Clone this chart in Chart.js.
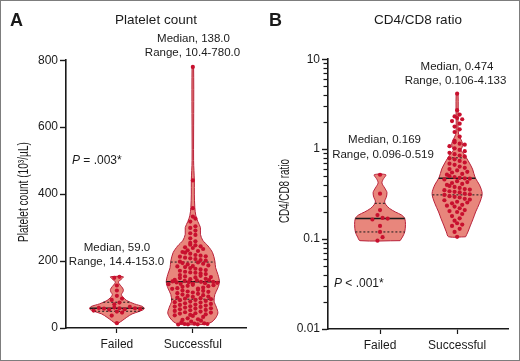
<!DOCTYPE html>
<html><head><meta charset="utf-8">
<script src="https://cdn.jsdelivr.net/npm/chart.js@4/dist/chart.umd.min.js"></script>
<style>
html,body{margin:0;padding:0;background:#fff;}
#fig{position:relative;width:520px;height:361px;box-sizing:border-box;border:1px solid #7d7d7d;overflow:hidden;background:#fff;}
canvas{position:absolute;top:-1px;}
#cA{left:-1px}#cB{left:259px}
</style></head><body>
<div id="fig"><canvas id="cA" width="260" height="361"></canvas><canvas id="cB" width="260" height="361"></canvas></div>
<script>
// ---------- data ----------
const categories = ['Failed', 'Successful'];
const panelTitles = ['Platelet count', 'CD4/CD8 ratio'];
const panelLetters = ['A', 'B'];
const yAxisTitles = ['Platelet count (10³/µL)', 'CD4/CD8 ratio'];
const plateletTicks = [0, 200, 400, 600, 800];
const ratioTicks = [0.01, 0.1, 1, 10];

const plateletFailed = [153.0, 150, 127, 112, 96, 88, 84, 76, 71, 63, 61, 60, 59, 59, 58, 57, 56, 55, 52, 49, 46, 37, 14.4];
const plateletSuccessful = [780.0, 441, 358, 333, 327, 318, 304, 299, 291, 283, 278, 268, 259, 254, 249, 247, 244, 241, 239, 236, 232, 230, 227, 225, 222, 218, 216, 214, 213, 210, 208, 206, 203, 201, 198, 196, 194, 192, 190, 187, 185, 184, 182, 179, 177, 175, 173, 171, 168, 166, 165, 163, 161, 158, 156, 154, 152, 151, 149, 147, 146, 144, 143, 142, 141, 139, 138, 138, 137, 136, 135, 134, 133, 132, 131, 129, 128, 126, 125, 123, 121, 119, 118, 117, 114, 112, 111, 109, 108, 106, 104, 102, 100, 98, 96, 94, 93, 91, 89, 88, 86, 84, 83, 81, 79, 77, 76, 74, 72, 70, 69, 67, 65, 64, 63, 61, 59, 58, 56, 54, 53, 51, 49, 47, 46, 44, 43, 41, 39, 38, 36, 33, 29, 26, 24, 22, 19, 17, 14, 13, 12, 12, 11, 11, 10.4];
const ratioFailed = [0.519, 0.32, 0.21, 0.185, 0.172, 0.169, 0.165, 0.14, 0.12, 0.105, 0.096];
const ratioSuccessful = [4.133, 2.71, 2.42, 2.31, 2.22, 2.15, 2.05, 1.92, 1.78, 1.66, 1.55, 1.38, 1.24, 1.19, 1.15, 1.12, 1.08, 1.02, 0.98, 0.95, 0.91, 0.88, 0.85, 0.83, 0.79, 0.77, 0.74, 0.71, 0.69, 0.67, 0.64, 0.62, 0.6, 0.58, 0.56, 0.55, 0.53, 0.52, 0.5, 0.49, 0.48, 0.474, 0.47, 0.46, 0.44, 0.43, 0.42, 0.41, 0.4, 0.39, 0.38, 0.37, 0.36, 0.355, 0.35, 0.34, 0.335, 0.33, 0.32, 0.315, 0.31, 0.3, 0.295, 0.29, 0.28, 0.275, 0.27, 0.26, 0.255, 0.25, 0.24, 0.235, 0.23, 0.22, 0.21, 0.205, 0.2, 0.19, 0.18, 0.17, 0.16, 0.15, 0.145, 0.14, 0.13, 0.12, 0.106];

const plateletMedian = [59.0, 138.0];
const plateletQ1 = [50, 86];
const plateletQ3 = [77, 197];
const plateletMin = [14.4, 10.4];
const plateletMax = [153.0, 780.0];
const ratioMedian = [0.169, 0.474];
const ratioQ1 = [0.12, 0.31];
const ratioQ3 = [0.25, 0.80];
const ratioMin = [0.096, 0.106];
const ratioMax = [0.519, 4.133];
const pSigns = ['=', '<'];
const pValues = ['.003*', '.001*'];

// violin outlines: value levels and half-widths (fraction of category spacing)
const plateletFailedLevels = [14.4, 22, 32, 42, 50, 57, 64, 72, 82, 92, 100, 108, 115, 124, 132, 138, 146, 153];
const plateletFailedWidths = [0.02, 0.07, 0.13, 0.2, 0.3, 0.36, 0.34, 0.23, 0.13, 0.08, 0.06, 0.08, 0.085, 0.06, 0.03, 0.02, 0.06, 0.085];
const plateletSuccessfulLevels = [10.4, 18, 30, 45, 62, 80, 100, 120, 138, 160, 180, 200, 225, 245, 262, 280, 300, 318, 335, 360, 400, 440, 500, 780];
const plateletSuccessfulWidths = [0.17, 0.25, 0.3, 0.33, 0.31, 0.28, 0.29, 0.33, 0.35, 0.33, 0.3, 0.29, 0.26, 0.2, 0.13, 0.1, 0.1, 0.066, 0.04, 0.026, 0.02, 0.02, 0.01, 0.01];
const ratioFailedLevels = [0.096, 0.105, 0.12, 0.145, 0.17, 0.185, 0.2, 0.22, 0.245, 0.265, 0.29, 0.33, 0.37, 0.42, 0.46, 0.519];
const ratioFailedWidths = [0.26, 0.29, 0.32, 0.33, 0.32, 0.28, 0.2, 0.12, 0.07, 0.06, 0.08, 0.09, 0.06, 0.025, 0.04, 0.075];
const ratioSuccessfulLevels = [0.106, 0.12, 0.14, 0.17, 0.2, 0.25, 0.32, 0.4, 0.48, 0.6, 0.7, 0.8, 0.9, 0.97, 1.05, 1.15, 1.28, 1.45, 1.8, 4.133];
const ratioSuccessfulWidths = [0.11, 0.14, 0.17, 0.21, 0.24, 0.29, 0.325, 0.29, 0.235, 0.2, 0.16, 0.12, 0.08, 0.05, 0.065, 0.07, 0.05, 0.02, 0.012, 0.012];

// ---------- styling ----------
const FONT = "'Liberation Sans', Arial, sans-serif";
const INK = '#1a1a1a';
const VIOLIN_FILL = '#e8867c';
const VIOLIN_EDGE = '#b8213a';
const DOT = '#c8102e';

function widthAt(levels, widths, t, tf) {
  const L = levels.map(tf);
  if (t <= L[0]) return widths[0];
  for (let i = 1; i < L.length; i++) {
    if (t <= L[i]) { const f = (t - L[i-1]) / (L[i] - L[i-1]); return widths[i-1] + f * (widths[i] - widths[i-1]); }
  }
  return widths[widths.length - 1];
}
function violinPath(c, levels, widths) {
  const right = levels.map((v, i) => ({x: c + widths[i], y: v}));
  const left = levels.map((v, i) => ({x: c - widths[i], y: v})).reverse();
  return right.concat(left, [right[0]]);
}
function gcd(a, b) { return b ? gcd(b, a % b) : a; }
function swarm(c, values, levels, widths, tf, rowStep, colStep) {
  const sorted = values.slice().sort((a, b) => a - b);
  const rows = []; let cur = null;
  sorted.forEach(v => { const t = tf(v); if (!cur || t - cur.t0 > rowStep) { cur = {t0: t, vals: []}; rows.push(cur); } cur.vals.push(v); });
  const pts = [];
  rows.forEach(r => {
    const n = r.vals.length;
    const tm = r.vals.reduce((s, v) => s + tf(v), 0) / n;
    const half = Math.max(widthAt(levels, widths, tm, tf) * 0.92, 0.1);
    const s = n > 1 ? Math.min(colStep, 2 * half / (n - 1)) : 0;
    const k = gcd(3, n) === 1 ? 3 : (gcd(5, n) === 1 ? 5 : 1);
    r.vals.forEach((v, j) => { const pos = (j * k) % n; pts.push({x: c + (pos - (n - 1) / 2) * s, y: v}); });
  });
  return pts;
}

function makeTextPlugin(o) {
  return {
    id: 'panelText',
    afterDraw(chart) {
      const ctx = chart.ctx;
      ctx.save();
      // short minor ticks on a log axis
      if (o.minorTicks.length) {
        const ys = chart.scales.y;
        const ax = chart.chartArea.left;
        ctx.strokeStyle = INK; ctx.lineWidth = 1.2; ctx.setLineDash([]);
        o.minorTicks.forEach(v => {
          const py = Math.round(ys.getPixelForValue(v)) + 0.5;
          ctx.beginPath(); ctx.moveTo(ax - 4.5, py); ctx.lineTo(ax, py); ctx.stroke();
        });
      }
      ctx.fillStyle = INK;
      ctx.textBaseline = 'middle';
      ctx.textAlign = 'left';
      ctx.font = 'bold 18px ' + FONT;
      ctx.fillText(o.letter, o.letterX, 21);
      ctx.font = '11.5px ' + FONT;
      ctx.textAlign = 'center';
      o.notes.forEach(n => ctx.fillText(n.text, n.x, n.y));
      ctx.textAlign = 'left';
      ctx.font = 'italic 12px ' + FONT;
      ctx.fillText('P', o.pX, o.pY);
      const w = ctx.measureText('P').width;
      ctx.font = '12px ' + FONT;
      ctx.fillText(' ' + o.pSign + ' ' + o.pValue, o.pX + w, o.pY);
      // condensed rotated y-axis title
      ctx.font = '14px ' + FONT;
      const tw = ctx.measureText(o.yTitle).width;
      const yc = (chart.chartArea.top + chart.chartArea.bottom) / 2 + o.yTitleDy;
      ctx.translate(o.yTitleX, yc);
      ctx.rotate(-Math.PI / 2);
      ctx.scale(o.yTitleLen / tw, 1);
      ctx.textAlign = 'center';
      ctx.fillText(o.yTitle, 0, 0);
      ctx.restore();
    }
  };
}

function makePanel(id, cfg) {
  const tf = cfg.log ? Math.log10 : (v => v);
  const datasets = [];
  cfg.groups.forEach((vals, i) => {
    const c = i + 1;
    const lv = cfg.levels[i], wd = cfg.widths[i];
    datasets.push({data: swarm(c, vals, lv, wd, tf, cfg.rowStep, cfg.colStep), showLine: false, pointRadius: 2.1, pointHoverRadius: 2.1,
      pointBackgroundColor: DOT, pointBorderWidth: 0, order: 0, clip: false});
    const wm = widthAt(lv, wd, tf(cfg.median[i]), tf);
    datasets.push({data: [{x: c - wm, y: cfg.median[i]}, {x: c + wm, y: cfg.median[i]}], borderColor: INK, borderWidth: 1.6, pointRadius: 0, order: 1});
    [cfg.q1[i], cfg.q3[i]].forEach(q => {
      const wq = widthAt(lv, wd, tf(q), tf);
      datasets.push({data: [{x: c - wq, y: q}, {x: c + wq, y: q}], borderColor: INK, borderWidth: 1, borderDash: [2, 2], pointRadius: 0, order: 1});
    });
    datasets.push({data: violinPath(c, lv, wd), fill: 'shape', backgroundColor: VIOLIN_FILL, borderColor: VIOLIN_EDGE,
      borderWidth: 1, pointRadius: 0, tension: 0.3, order: 2, clip: false});
  });
  const yMin = cfg.yTicks[0], yMax = cfg.yTicks[cfg.yTicks.length - 1];
  const yScale = {
    type: cfg.log ? 'logarithmic' : 'linear', min: yMin, max: yMax,
    afterBuildTicks: s => { s.ticks = cfg.yTicks.map(v => ({value: v, major: true})); },
    ticks: {autoSkip: false, color: INK, font: {family: FONT, size: 12}, padding: 2, callback: v => String(v)},
    grid: {drawOnChartArea: false, drawTicks: true, tickLength: 6, color: INK, tickWidth: 1.4},
    afterFit: s => { s.width = cfg.yWidth; },
    border: {display: true, color: INK, width: 1.6},
    title: {display: false}
  };
  const minor = [];
  if (cfg.log) cfg.yTicks.slice(0, -1).forEach(d => { for (let k = 2; k <= 9; k++) minor.push(d * k); });
  const text = Object.assign({minorTicks: minor}, cfg.text);
  new Chart(document.getElementById(id), {
    type: 'line',
    data: {datasets},
    options: {
      responsive: false, animation: false, devicePixelRatio: 1,
      layout: {padding: {left: 0, right: cfg.padRight, top: 0, bottom: 0}},
      plugins: {
        legend: {display: false}, tooltip: {enabled: false},
        title: {display: true, text: cfg.title, fullSize: false, color: INK, font: {family: FONT, size: 13.5, weight: 'normal'},
          padding: {top: 12, bottom: cfg.titleBottom}}
      },
      scales: {
        x: {type: 'linear', min: cfg.xMin, max: cfg.xMax,
          afterBuildTicks: s => { s.ticks = categories.map((c, i) => ({value: i + 1})); },
          afterFit: s => { s.height = cfg.xHeight; },
          ticks: {callback: v => categories[v - 1], color: INK, font: {family: FONT, size: 12}, padding: 4, autoSkip: false, maxRotation: 0},
          grid: {drawOnChartArea: false, drawTicks: true, tickLength: 5, color: INK, tickWidth: 1.2},
          border: {display: true, color: INK, width: 1.6}},
        y: yScale
      }
    },
    plugins: [makeTextPlugin(text)]
  });
}

const fmt1 = v => v.toFixed(1), fmt3 = v => v.toFixed(3);

makePanel('cA', {
  log: false, title: panelTitles[0], yTicks: plateletTicks,
  groups: [plateletFailed, plateletSuccessful],
  levels: [plateletFailedLevels, plateletSuccessfulLevels], widths: [plateletFailedWidths, plateletSuccessfulWidths],
  median: plateletMedian, q1: plateletQ1, q3: plateletQ3,
  rowStep: 12, colStep: 0.068,
  xMin: 0.33, xMax: 2.70, yWidth: 66, xHeight: 33, padRight: 14, titleBottom: 32,
  text: {letter: panelLetters[0], letterX: 10, pX: 72, pY: 161, pSign: pSigns[0], pValue: pValues[0],
    yTitle: yAxisTitles[0], yTitleX: 24, yTitleLen: 100, yTitleDy: -2,
    notes: [
      {text: 'Median, ' + fmt1(plateletMedian[0]), x: 117, y: 248},
      {text: 'Range, ' + fmt1(plateletMin[0]) + '-' + fmt1(plateletMax[0]), x: 116.5, y: 262},
      {text: 'Median, ' + fmt1(plateletMedian[1]), x: 193.5, y: 39},
      {text: 'Range, ' + fmt1(plateletMin[1]) + '-' + fmt1(plateletMax[1]), x: 192.5, y: 53}
    ]}
});
makePanel('cB', {
  log: true, title: panelTitles[1], yTicks: ratioTicks,
  groups: [ratioFailed, ratioSuccessful],
  levels: [ratioFailedLevels, ratioSuccessfulLevels], widths: [ratioFailedWidths, ratioSuccessfulWidths],
  median: ratioMedian, q1: ratioQ1, q3: ratioQ3,
  rowStep: 0.05, colStep: 0.066,
  xMin: 0.325, xMax: 2.66, yWidth: 68, xHeight: 32, padRight: 12, titleBottom: 31,
  text: {letter: panelLetters[1], letterX: 9, pX: 74, pY: 284, pSign: pSigns[1], pValue: pValues[1],
    yTitle: yAxisTitles[1], yTitleX: 25, yTitleLen: 64, yTitleDy: -3,
    notes: [
      {text: 'Median, ' + fmt3(ratioMedian[0]), x: 124.5, y: 140},
      {text: 'Range, ' + fmt3(ratioMin[0]) + '-' + fmt3(ratioMax[0]), x: 123, y: 155},
      {text: 'Median, ' + fmt3(ratioMedian[1]), x: 197, y: 67},
      {text: 'Range, ' + fmt3(ratioMin[1]) + '-' + fmt3(ratioMax[1]), x: 195.5, y: 81}
    ]}
});
</script></body></html>
